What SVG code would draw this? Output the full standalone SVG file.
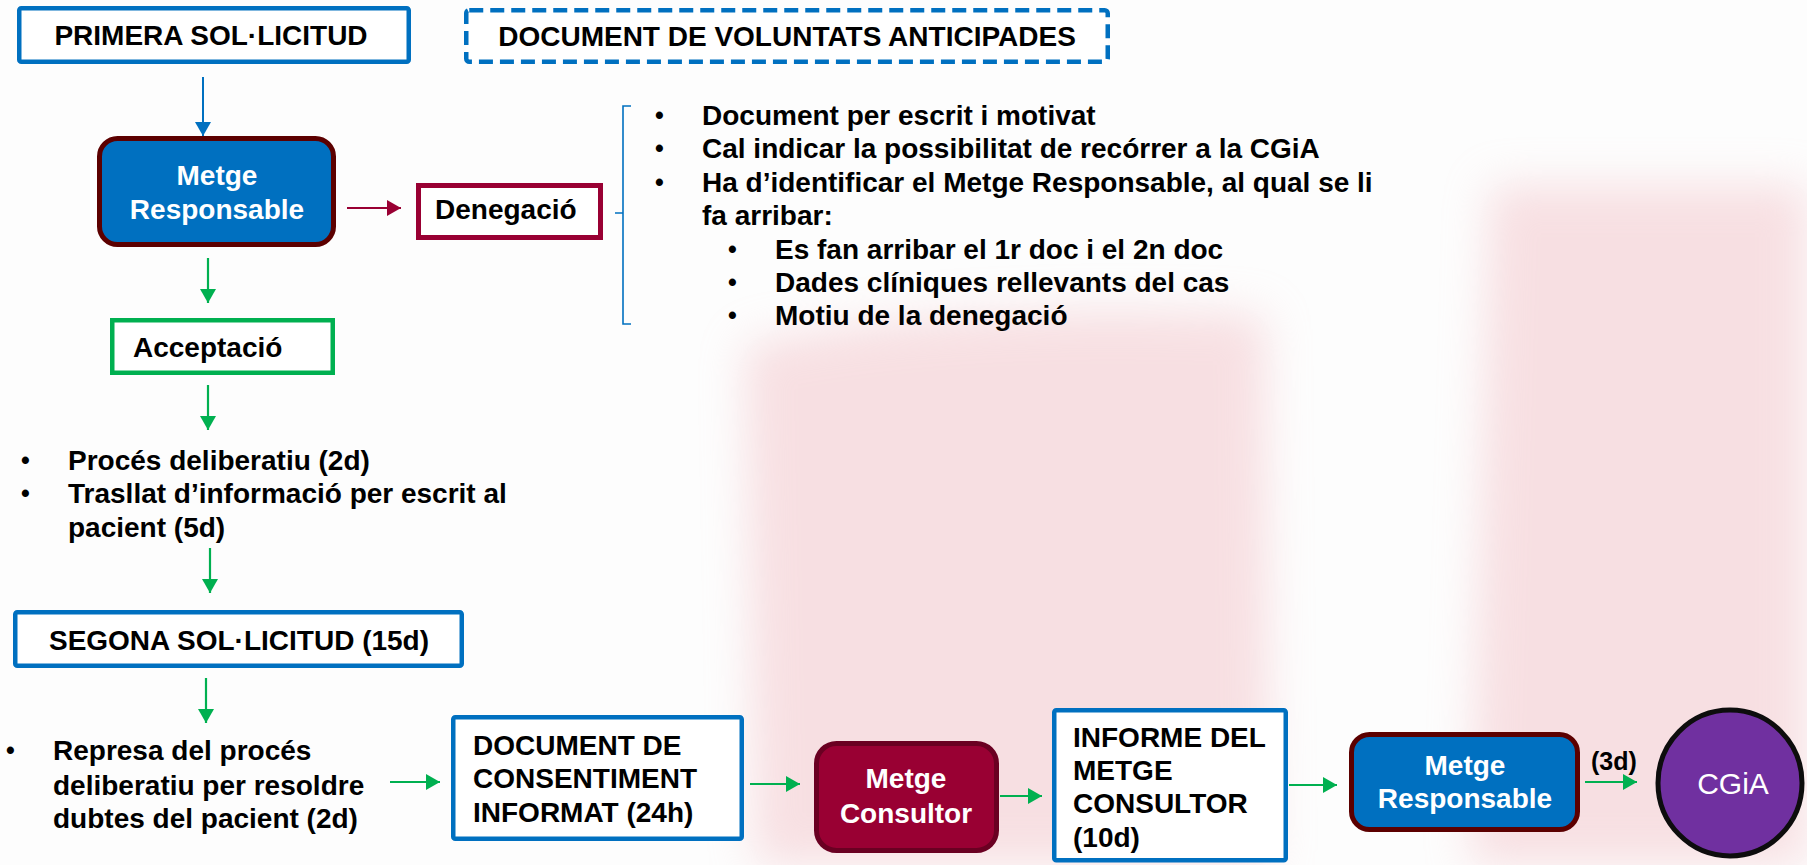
<svg xmlns="http://www.w3.org/2000/svg" width="1807" height="865" viewBox="0 0 1807 865">
<style>
  text { font-family: "Liberation Sans", Arial, sans-serif; font-weight: bold; font-size: 28px; fill: #000; }
  .w { fill: #fff; }
  .mid { text-anchor: middle; }
  .bul { font-size: 25px; }
  .blue { fill: #fff; stroke: #0070c0; stroke-width: 4.5; }
  .dash { fill: #fff; stroke: #0070c0; stroke-width: 4.5; stroke-dasharray: 14 7; }
  .green { fill: #fff; stroke: #00b050; stroke-width: 4.5; }
  .deny { fill: #fff; stroke: #990033; stroke-width: 5; }
  .resp { fill: #0070c0; stroke: #5c0000; stroke-width: 5; }
  .cons { fill: #990033; stroke: #6a0022; stroke-width: 5; }
  .c-green { stroke: #00b050; stroke-width: 2.2; fill: none; marker-end: url(#ag); }
  .c-blue { stroke: #0070c0; stroke-width: 2; fill: none; marker-end: url(#ab); }
  .c-red { stroke: #990033; stroke-width: 2.2; fill: none; marker-end: url(#ar); }
  .brace { stroke: #0070c0; stroke-width: 1.6; fill: none; }
</style>
<defs>
  <marker id="ag" viewBox="0 0 14 16" refX="14" refY="8" markerWidth="14" markerHeight="16" markerUnits="userSpaceOnUse" orient="auto"><path d="M0,0 L14,8 L0,16 z" fill="#00b050"/></marker>
  <marker id="ab" viewBox="0 0 14 16" refX="14" refY="8" markerWidth="14" markerHeight="16" markerUnits="userSpaceOnUse" orient="auto"><path d="M0,0 L14,8 L0,16 z" fill="#0070c0"/></marker>
  <marker id="ar" viewBox="0 0 14 16" refX="14" refY="8" markerWidth="14" markerHeight="16" markerUnits="userSpaceOnUse" orient="auto"><path d="M0,0 L14,8 L0,16 z" fill="#990033"/></marker>
  <filter id="blur" x="-20%" y="-20%" width="140%" height="140%"><feGaussianBlur stdDeviation="22"/></filter>
</defs>

<rect x="0" y="0" width="1807" height="865" fill="#fdfdfd"/>
<g id="watermark" filter="url(#blur)" opacity="0.5">
  <path d="M745,345 Q950,300 1265,315 L1270,865 L755,865 z" fill="#f2c2c8"/>
  <path d="M1490,185 L1807,185 L1807,865 L1470,865 z" fill="#f2c2c8"/>
</g>

<g id="connectors">
  <line class="c-blue" x1="203" y1="77" x2="203" y2="136"/>
  <line class="c-red" x1="347" y1="208" x2="401" y2="208"/>
  <line class="c-green" x1="208" y1="258" x2="208" y2="303"/>
  <line class="c-green" x1="208" y1="385" x2="208" y2="430"/>
  <line class="c-green" x1="210" y1="548" x2="210" y2="593"/>
  <line class="c-green" x1="206" y1="678" x2="206" y2="723"/>
  <line class="c-green" x1="390" y1="782" x2="440" y2="782"/>
  <line class="c-green" x1="750" y1="784" x2="800" y2="784"/>
  <line class="c-green" x1="1000" y1="796" x2="1042" y2="796"/>
  <line class="c-green" x1="1289" y1="785" x2="1337" y2="785"/>
  <line class="c-green" x1="1585" y1="782" x2="1637" y2="782"/>
</g>

<g id="primera">
  <rect class="blue" x="19.25" y="8.25" width="389.5" height="53.5" rx="2"/>
  <text class="mid" x="211" y="45">PRIMERA SOL·LICITUD</text>
</g>

<g id="dva">
  <rect class="dash" x="466.25" y="10.25" width="641.5" height="51.5" rx="3"/>
  <text class="mid" x="787" y="46">DOCUMENT DE VOLUNTATS ANTICIPADES</text>
</g>

<g id="metge-resp-1">
  <rect class="resp" x="99.5" y="138.5" width="234" height="106" rx="18"/>
  <text class="w mid" x="217" y="185">Metge</text>
  <text class="w mid" x="217" y="219">Responsable</text>
</g>

<g id="denegacio">
  <rect class="deny" x="418.5" y="185.5" width="182" height="52"/>
  <text x="435" y="219">Denegació</text>
</g>

<g id="denegacio-detall">
  <path class="brace" d="M631,106 L623,106 L623,324 L631,324 M615,213 L623,213"/>
  <text class="bul" x="655" y="124">•</text><text x="702" y="125">Document per escrit i motivat</text>
  <text class="bul" x="655" y="157">•</text><text x="702" y="158">Cal indicar la possibilitat de recórrer a la CGiA</text>
  <text class="bul" x="655" y="191">•</text><text x="702" y="192">Ha d’identificar el Metge Responsable, al qual se li</text>
  <text x="702" y="225">fa arribar:</text>
  <text class="bul" x="728" y="258">•</text><text x="775" y="259">Es fan arribar el 1r doc i el 2n doc</text>
  <text class="bul" x="728" y="291">•</text><text x="775" y="292">Dades clíniques rellevants del cas</text>
  <text class="bul" x="728" y="324">•</text><text x="775" y="325">Motiu de la denegació</text>
</g>

<g id="acceptacio">
  <rect class="green" x="112.25" y="320.25" width="220.5" height="52.5"/>
  <text x="133" y="357">Acceptació</text>
</g>

<g id="proces">
  <text class="bul" x="21" y="469">•</text><text x="68" y="470">Procés deliberatiu (2d)</text>
  <text class="bul" x="21" y="502">•</text><text x="68" y="503">Trasllat d’informació per escrit al</text>
  <text x="68" y="537">pacient (5d)</text>
</g>

<g id="segona">
  <rect class="blue" x="15.25" y="612.25" width="446.5" height="53.5" rx="2"/>
  <text class="mid" x="239" y="650">SEGONA SOL·LICITUD (15d)</text>
</g>

<g id="represa">
  <text class="bul" x="6" y="759">•</text><text x="53" y="760">Represa del procés</text>
  <text x="53" y="795">deliberatiu per resoldre</text>
  <text x="53" y="828">dubtes del pacient (2d)</text>
</g>

<g id="consentiment">
  <rect class="blue" x="453.25" y="717.25" width="288.5" height="121.5" rx="2"/>
  <text x="473" y="755">DOCUMENT DE</text>
  <text x="473" y="788">CONSENTIMENT</text>
  <text x="473" y="822">INFORMAT (24h)</text>
</g>

<g id="metge-consultor">
  <rect class="cons" x="816.5" y="743.5" width="180" height="107" rx="20"/>
  <text class="w mid" x="906" y="788">Metge</text>
  <text class="w mid" x="906" y="823">Consultor</text>
</g>

<g id="informe">
  <rect class="blue" x="1054.25" y="710.25" width="231.5" height="150" rx="2"/>
  <text x="1073" y="747">INFORME DEL</text>
  <text x="1073" y="780">METGE</text>
  <text x="1073" y="813">CONSULTOR</text>
  <text x="1073" y="847">(10d)</text>
</g>

<g id="metge-resp-2">
  <rect class="resp" x="1351.5" y="734.5" width="226" height="95" rx="18"/>
  <text class="w mid" x="1465" y="775">Metge</text>
  <text class="w mid" x="1465" y="808">Responsable</text>
</g>

<g id="label-3d">
  <text x="1591" y="770" style="font-size:25px">(3d)</text>
</g>

<g id="cgia">
  <ellipse cx="1730" cy="783" rx="72" ry="73" fill="#7030a0" stroke="#0d0d0d" stroke-width="5"/>
  <text class="w mid" x="1733" y="794" style="font-weight:normal;font-size:30px">CGiA</text>
</g>
</svg>
